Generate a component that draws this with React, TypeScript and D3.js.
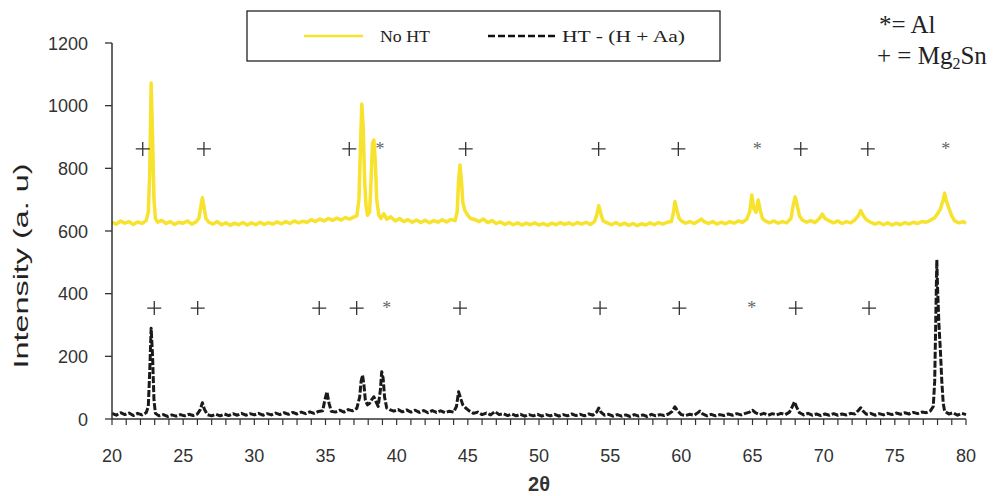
import React from "react";
import * as d3 from "d3";

// 2θ / intensity pairs
const noHT: [number, number][] = [
  [20, 628], [20.3, 622], [20.6, 632], [20.9, 625], [21.2, 630], [21.5, 621], [21.8, 629], [22.1, 624], [22.4, 633],
  [22.55, 660], [22.65, 780], [22.75, 1072], [22.85, 900], [22.95, 700], [23.05, 640], [23.2, 628], [23.5, 634],
  [23.8, 624], [24.1, 630], [24.4, 621], [24.7, 628], [25.0, 625], [25.3, 632], [25.6, 622], [25.9, 629], [26.1, 640],
  [26.25, 680], [26.35, 706], [26.45, 680], [26.6, 640], [26.8, 628], [27.1, 622], [27.4, 630], [27.7, 620], [28, 626],
  [28.3, 618], [28.6, 625], [28.9, 620], [29.2, 627], [29.5, 619], [29.8, 626], [30.1, 620], [30.4, 628], [30.7, 621],
  [31.0, 627], [31.3, 622], [31.6, 629], [31.9, 623], [32.2, 630], [32.5, 624], [32.8, 632], [33.1, 626], [33.4, 631],
  [33.7, 628], [34.0, 636], [34.3, 630], [34.6, 638], [34.9, 632], [35.2, 640], [35.5, 634], [35.8, 641], [36.1, 635],
  [36.4, 643], [36.7, 638], [37.0, 645], [37.2, 648], [37.35, 700], [37.45, 860], [37.55, 1005], [37.65, 930],
  [37.75, 760], [37.85, 680], [37.95, 650], [38.1, 660], [38.2, 760], [38.3, 880], [38.4, 890], [38.5, 820], [38.6, 700],
  [38.75, 650], [38.9, 640], [39.1, 655], [39.3, 638], [39.6, 645], [39.9, 632], [40.2, 640], [40.5, 630], [40.8, 636],
  [41.1, 628], [41.4, 635], [41.7, 627], [42.0, 634], [42.3, 626], [42.6, 633], [42.9, 628], [43.2, 636], [43.5, 629],
  [43.8, 637], [44.1, 633], [44.25, 660], [44.35, 760], [44.45, 811], [44.55, 760], [44.65, 690], [44.8, 665],
  [45.0, 650], [45.2, 640], [45.5, 636], [45.8, 630], [46.1, 638], [46.4, 627], [46.7, 633], [47.0, 624], [47.3, 629],
  [47.6, 621], [47.9, 627], [48.2, 620], [48.5, 626], [48.8, 619], [49.1, 625], [49.4, 620], [49.7, 626], [50.0, 619],
  [50.3, 624], [50.6, 618], [50.9, 625], [51.2, 620], [51.5, 627], [51.8, 621], [52.1, 626], [52.4, 620], [52.7, 627],
  [53.0, 622], [53.3, 628], [53.6, 621], [53.9, 630], [54.05, 650], [54.2, 681], [54.35, 655], [54.5, 632], [54.8, 626],
  [55.1, 620], [55.4, 627], [55.7, 619], [56.0, 625], [56.3, 618], [56.6, 624], [56.9, 617], [57.2, 623], [57.5, 619],
  [57.8, 626], [58.1, 620], [58.4, 627], [58.7, 622], [59.0, 628], [59.3, 630], [59.45, 660], [59.55, 694], [59.7, 665],
  [59.85, 640], [60.0, 632], [60.3, 625], [60.6, 630], [60.9, 624], [61.2, 632], [61.4, 638], [61.6, 630], [61.9, 624],
  [62.2, 630], [62.5, 622], [62.8, 628], [63.1, 623], [63.4, 630], [63.7, 625], [64.0, 632], [64.3, 628], [64.6, 638],
  [64.8, 660], [64.95, 715], [65.1, 670], [65.25, 660], [65.4, 699], [65.55, 665], [65.7, 640], [65.9, 632], [66.2, 626],
  [66.5, 632], [66.8, 625], [67.1, 630], [67.4, 626], [67.7, 640], [67.85, 680], [68.0, 709], [68.15, 680], [68.3, 648],
  [68.5, 635], [68.8, 628], [69.1, 633], [69.4, 627], [69.7, 640], [69.9, 654], [70.1, 640], [70.4, 632], [70.7, 626],
  [71.0, 632], [71.3, 624], [71.6, 630], [71.9, 626], [72.2, 636], [72.45, 650], [72.6, 665], [72.8, 648], [73.0, 636],
  [73.3, 628], [73.6, 622], [73.9, 627], [74.2, 620], [74.5, 626], [74.8, 619], [75.1, 625], [75.4, 620], [75.7, 627],
  [76.0, 622], [76.3, 628], [76.6, 624], [76.9, 630], [77.2, 628], [77.5, 634], [77.8, 642], [78.0, 655], [78.2, 670],
  [78.4, 700], [78.5, 721], [78.6, 700], [78.8, 672], [79.0, 648], [79.2, 632], [79.5, 626], [79.8, 630], [80.0, 625],
];

const htHAa: [number, number][] = [
  [20, 18], [20.3, 12], [20.6, 20], [20.9, 14], [21.2, 19], [21.5, 11], [21.8, 18], [22.1, 13], [22.4, 20], [22.55, 40],
  [22.65, 150], [22.75, 290], [22.85, 200], [22.95, 60], [23.05, 18], [23.3, 10], [23.6, 14], [23.9, 8], [24.2, 13],
  [24.5, 9], [24.8, 14], [25.1, 10], [25.4, 15], [25.7, 11], [26.0, 16], [26.2, 30], [26.35, 52], [26.5, 30], [26.7, 14],
  [27.0, 10], [27.3, 15], [27.6, 10], [27.9, 16], [28.2, 11], [28.5, 17], [28.8, 12], [29.1, 18], [29.4, 12], [29.7, 17],
  [30.0, 13], [30.3, 18], [30.6, 12], [30.9, 17], [31.2, 13], [31.5, 19], [31.8, 14], [32.1, 20], [32.4, 15], [32.7, 21],
  [33.0, 16], [33.3, 22], [33.6, 17], [33.9, 23], [34.2, 18], [34.5, 24], [34.8, 26], [34.95, 60], [35.1, 87],
  [35.25, 50], [35.4, 25], [35.7, 22], [36.0, 28], [36.3, 22], [36.6, 30], [36.9, 26], [37.2, 34], [37.4, 70],
  [37.5, 120], [37.6, 140], [37.7, 110], [37.8, 60], [37.95, 45], [38.1, 50], [38.25, 62], [38.4, 71], [38.55, 55],
  [38.7, 40], [38.85, 90], [38.95, 151], [39.05, 130], [39.15, 70], [39.3, 35], [39.5, 30], [39.8, 25], [40.1, 30],
  [40.4, 23], [40.7, 29], [41.0, 22], [41.3, 28], [41.6, 21], [41.9, 27], [42.2, 20], [42.5, 27], [42.8, 21], [43.1, 26],
  [43.4, 20], [43.7, 25], [44.0, 22], [44.2, 40], [44.35, 87], [44.5, 65], [44.65, 45], [44.85, 35], [45.1, 26],
  [45.4, 18], [45.7, 22], [46.0, 14], [46.3, 19], [46.6, 13], [46.9, 24], [47.2, 14], [47.5, 17], [47.8, 11], [48.1, 16],
  [48.4, 10], [48.7, 15], [49.0, 9], [49.3, 14], [49.6, 10], [49.9, 15], [50.2, 9], [50.5, 14], [50.8, 10], [51.1, 15],
  [51.4, 9], [51.7, 14], [52.0, 10], [52.3, 16], [52.6, 11], [52.9, 15], [53.2, 10], [53.5, 16], [53.8, 12], [54.05, 22],
  [54.2, 35], [54.35, 22], [54.6, 12], [54.9, 15], [55.2, 9], [55.5, 14], [55.8, 9], [56.1, 13], [56.4, 8], [56.7, 14],
  [57.0, 9], [57.3, 13], [57.6, 8], [57.9, 15], [58.2, 10], [58.5, 14], [58.8, 11], [59.1, 16], [59.35, 24], [59.55, 39],
  [59.75, 25], [60.0, 14], [60.3, 11], [60.6, 15], [60.9, 12], [61.1, 18], [61.3, 25], [61.5, 16], [61.8, 10], [62.1, 15],
  [62.4, 10], [62.7, 14], [63.0, 11], [63.3, 16], [63.6, 12], [63.9, 17], [64.2, 13], [64.5, 18], [64.8, 22], [65.0, 28],
  [65.2, 20], [65.5, 14], [65.8, 18], [66.1, 12], [66.4, 17], [66.7, 13], [67.0, 18], [67.3, 14], [67.6, 22], [67.8, 40],
  [67.95, 55], [68.1, 38], [68.3, 20], [68.6, 13], [68.9, 18], [69.2, 12], [69.5, 16], [69.8, 11], [70.1, 16], [70.4, 12],
  [70.7, 17], [71.0, 12], [71.3, 16], [71.6, 13], [71.9, 18], [72.2, 16], [72.45, 28], [72.6, 36], [72.8, 24], [73.0, 15],
  [73.3, 18], [73.6, 12], [73.9, 17], [74.2, 13], [74.5, 18], [74.8, 14], [75.1, 19], [75.4, 15], [75.7, 20], [76.0, 16],
  [76.3, 21], [76.6, 17], [76.9, 22], [77.2, 20], [77.5, 26], [77.7, 40], [77.8, 120], [77.9, 380], [77.95, 508],
  [78.0, 420], [78.1, 300], [78.2, 220], [78.3, 120], [78.4, 50], [78.5, 25], [78.8, 16], [79.1, 20], [79.4, 12],
  [79.7, 18], [80.0, 14],
];

const xTicks = [20, 25, 30, 35, 40, 45, 50, 55, 60, 65, 70, 75, 80];
const yTicks = [0, 200, 400, 600, 800, 1000, 1200];

// phase markers (2θ positions) and the intensity level of each marker row
const topPlus = [22.16, 26.46, 36.67, 44.85, 54.19, 59.79, 68.39, 73.1];
const topStar = [38.83, 65.34, 78.57];
const bottomPlus = [22.97, 26.02, 34.56, 37.19, 44.45, 54.29, 59.86, 68.04, 73.19];
const bottomStar = [39.3, 64.94];
const topRowLevel = 862;
const bottomRowLevel = 354;

const legendLabels = ["No HT", "HT - (H + Aa)"];

export default function App() {
  const x = d3.scaleLinear().domain([20, 80]).range([112, 966]);
  const y = d3.scaleLinear().domain([0, 1200]).range([419, 43]);
  const line = d3
    .line<[number, number]>()
    .x((d) => x(d[0]))
    .y((d) => y(d[1]));
  const minor = d3.range(20, 81, 1);
  const axisColor = "#333";
  const sans = "'Liberation Sans', Arial, sans-serif";
  const serif = "'Liberation Serif', 'Times New Roman', serif";
  const yellow = "#F7E22E";

  const plus = (cx: number, cy: number, key: string) => (
    <path
      key={key}
      d={`M${cx - 7},${cy}H${cx + 7}M${cx},${cy - 7}V${cy + 7}`}
      stroke="#333"
      strokeWidth={1.3}
      fill="none"
    />
  );
  const star = (cx: number, cy: number, key: string) => (
    <text key={key} x={cx} y={cy + 9} textAnchor="middle" fontFamily={serif} fontSize={18} fill="#666">
      *
    </text>
  );

  return (
    <svg
      width={1002}
      height={496}
      style={{ position: "absolute", left: 0, top: 0, display: "block", background: "#fff" }}
    >
      {/* series */}
      <path d={line(noHT) || ""} fill="none" stroke={yellow} strokeWidth={3.5} strokeLinejoin="round" />
      <path
        d={line(htHAa) || ""}
        fill="none"
        stroke="#1a1a1a"
        strokeWidth={3}
        strokeDasharray="7,2"
        strokeLinejoin="round"
      />

      {/* axes */}
      <line x1={112} x2={112} y1={y(1200)} y2={y(0)} stroke={axisColor} strokeWidth={1.5} />
      <line x1={112} x2={966} y1={y(0)} y2={y(0)} stroke={axisColor} strokeWidth={1.5} />
      {yTicks.map((t) => (
        <g key={"y" + t}>
          <line x1={105} x2={112} y1={y(t)} y2={y(t)} stroke={axisColor} strokeWidth={1.3} />
          <text x={88} y={y(t) + 6.5} textAnchor="end" fontFamily={sans} fontSize={18} fill="#333">
            {t}
          </text>
        </g>
      ))}
      {minor.map((t) => (
        <line key={"m" + t} x1={x(t)} x2={x(t)} y1={y(0)} y2={y(0) + 6} stroke={axisColor} strokeWidth={1.2} />
      ))}
      {xTicks.map((t) => (
        <text key={"x" + t} x={x(t)} y={462} textAnchor="middle" fontFamily={sans} fontSize={18} fill="#333">
          {t}
        </text>
      ))}
      <text x={539} y={491} textAnchor="middle" fontFamily={sans} fontSize={20} fontWeight="bold" fill="#333">
        2θ
      </text>
      <text
        transform="translate(28,266) rotate(-90)"
        textAnchor="middle"
        fontFamily={sans}
        fontSize={20}
        fill="#222"
        textLength={205}
        lengthAdjust="spacingAndGlyphs"
      >
        Intensity (a. u)
      </text>

      {/* phase markers */}
      {topPlus.map((p, i) => plus(x(p), y(topRowLevel), "tp" + i))}
      {topStar.map((p, i) => star(x(p), y(topRowLevel) - 3, "ts" + i))}
      {bottomPlus.map((p, i) => plus(x(p), y(bottomRowLevel), "bp" + i))}
      {bottomStar.map((p, i) => star(x(p), y(bottomRowLevel) - 3, "bs" + i))}

      {/* legend */}
      <rect x={247} y={11} width={473} height={50} fill="#fff" stroke="#222" strokeWidth={1.3} />
      <line x1={304} x2={363} y1={36} y2={36} stroke={yellow} strokeWidth={2.5} />
      <text x={380} y={42} fontFamily={serif} fontSize={17} fill="#222" textLength={50} lengthAdjust="spacingAndGlyphs">
        {legendLabels[0]}
      </text>
      <line x1={488} x2={555} y1={36} y2={36} stroke="#111" strokeWidth={2.5} strokeDasharray="7,3" />
      <text x={562} y={42} fontFamily={serif} fontSize={17} fill="#222" textLength={123} lengthAdjust="spacingAndGlyphs">
        {legendLabels[1]}
      </text>

      {/* phase key */}
      <text x={879} y={33} fontFamily={serif} fontSize={25} fill="#222">
        *= Al
      </text>
      <text x={877} y={64} fontFamily={serif} fontSize={25} fill="#222">
        + = Mg<tspan fontSize={16} dy={5}>2</tspan>
        <tspan dy={-5}>Sn</tspan>
      </text>
    </svg>
  );
}
